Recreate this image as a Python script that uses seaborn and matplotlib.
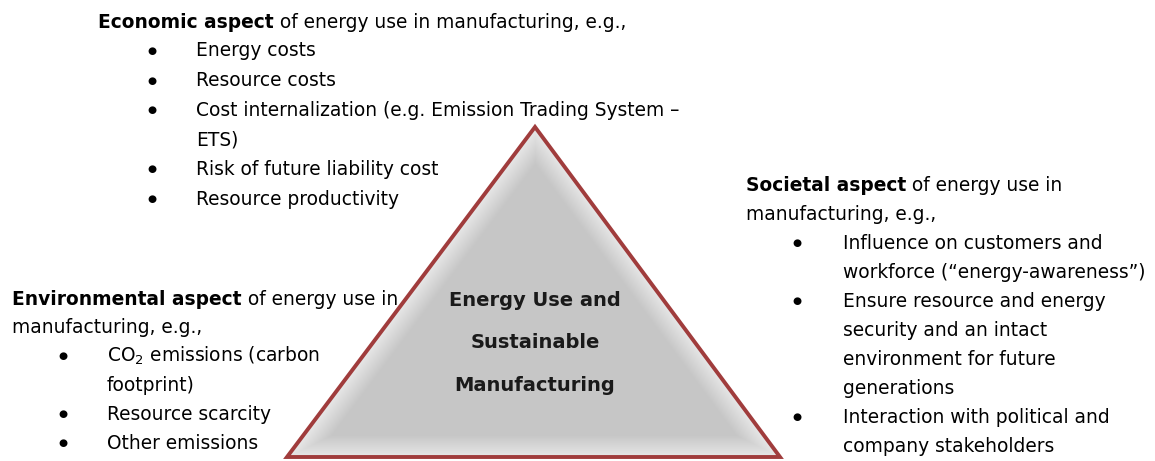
import numpy as np
import matplotlib
matplotlib.use("Agg")
import matplotlib.pyplot as plt
from matplotlib.patches import Polygon
import seaborn as sns

sns.set_theme(style="white")
plt.rcParams['font.family'] = ['DejaVu Sans']
plt.rcParams['mathtext.fontset'] = 'dejavusans'

# ---- content ----
center_lines = ["Energy Use and", "Sustainable", "Manufacturing"]

econ_bold = "Economic aspect"
econ_rest = " of energy use in manufacturing, e.g.,"
econ_items = [["Energy costs"], ["Resource costs"],
              ["Cost internalization (e.g. Emission Trading System \u2013", "ETS)"],
              ["Risk of future liability cost"], ["Resource productivity"]]

soc_bold = "Societal aspect"
soc_head = [" of energy use in", "manufacturing, e.g.,"]
soc_items = [["Influence on customers and", "workforce (\u201cenergy-awareness\u201d)"],
             ["Ensure resource and energy", "security and an intact",
              "environment for future", "generations"],
             ["Interaction with political and", "company stakeholders"]]

env_bold = "Environmental aspect"
env_head = [" of energy use in", "manufacturing, e.g.,"]
env_items = [["CO$_2$ emissions (carbon", "footprint)"], ["Resource scarcity"],
             ["Other emissions"]]

W, H = 1155, 461
fig = plt.figure(figsize=(W / 100, H / 100), dpi=100)
ax = fig.add_axes([0, 0, 1, 1])
ax.set_xlim(0, W)
ax.set_ylim(H, 0)
ax.axis("off")

# ---- triangle ----
tri = np.array([[535, 127], [287, 457], [780, 457]])
xs = np.arange(0, W)
ys = np.arange(0, H)
X, Y = np.meshgrid(xs, ys)
A, B, C = tri
def edge_dist(P, Q, R):
    n = np.array([-(Q[1] - P[1]), Q[0] - P[0]], dtype=float)
    n /= np.hypot(*n)
    d = (X - P[0]) * n[0] + (Y - P[1]) * n[1]
    dr = (R[0] - P[0]) * n[0] + (R[1] - P[1]) * n[1]
    return d * np.sign(dr)
d = np.minimum(np.minimum(edge_dist(A, B, C), edge_dist(B, C, A)), edge_dist(C, A, B))
t = np.clip(d / 22.0, 0, 1)
val = 0.91 - (0.91 - 0.78) * t
img = np.dstack([val, val, val])
im = ax.imshow(img, extent=(0, W, H, 0), origin="upper", zorder=1, interpolation="bilinear")
poly = Polygon(tri, closed=True, facecolor="none", edgecolor="#a03c3c",
               linewidth=2.8, joinstyle="miter", zorder=2)
ax.add_patch(poly)
im.set_clip_path(poly)

fs = 13.4
fsb = 14.0
for i, s in enumerate(center_lines):
    ax.text(535, 300 + i * 42.5, s, ha="center", va="center", fontsize=fsb,
            fontweight="bold", color="#1a1a1a", zorder=3)

def header(x, y, bold, rest_lines, lh):
    tb = ax.text(x, y, bold, ha="left", va="center", fontsize=fs, fontweight="bold", color="black")
    fig.canvas.draw()
    bb = tb.get_window_extent()
    xe = bb.x1
    ax.text(xe, y, rest_lines[0], ha="left", va="center", fontsize=fs, color="black")
    for j, s in enumerate(rest_lines[1:]):
        ax.text(x, y + (j + 1) * lh, s, ha="left", va="center", fontsize=fs, color="black")

def bullets(xb, xt, y0, items, lh):
    y = y0
    for item in items:
        ax.text(xb, y, "\u25CF", ha="center", va="center", fontsize=7.5, color="black")
        for s in item:
            ax.text(xt, y, s, ha="left", va="center", fontsize=fs, color="black")
            y += lh

header(98, 22, econ_bold, [econ_rest], 29.5)
bullets(152, 196, 51, econ_items, 29.6)
header(746, 185, soc_bold, soc_head, 29)
bullets(797, 843, 243, soc_items, 29)
header(12, 299, env_bold, env_head, 28.5)
bullets(63, 107, 356, env_items, 29)

fig.savefig("out.png", dpi=100)
